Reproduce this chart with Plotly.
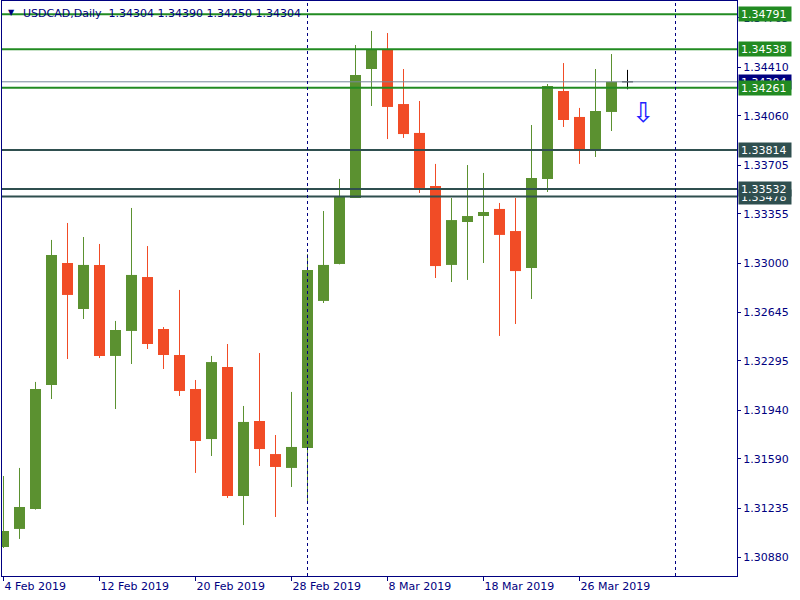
import plotly.graph_objects as go
import pandas as pd

# ---------------- data ----------------
dates = ["2019-02-04", "2019-02-05", "2019-02-06", "2019-02-07", "2019-02-08",
         "2019-02-11", "2019-02-12", "2019-02-13", "2019-02-14", "2019-02-15",
         "2019-02-18", "2019-02-19", "2019-02-20", "2019-02-21", "2019-02-22",
         "2019-02-25", "2019-02-26", "2019-02-27", "2019-02-28", "2019-03-01",
         "2019-03-04", "2019-03-05", "2019-03-06", "2019-03-07", "2019-03-08",
         "2019-03-11", "2019-03-12", "2019-03-13", "2019-03-14", "2019-03-15",
         "2019-03-18", "2019-03-19", "2019-03-20", "2019-03-21", "2019-03-22",
         "2019-03-25", "2019-03-26", "2019-03-27", "2019-03-28", "2019-03-29"]

opens = [1.30956, 1.31086, 1.31230, 1.32122, 1.33000, 1.32669, 1.32986, 1.32331, 1.32511, 1.32899,
         1.32525, 1.32338, 1.32093, 1.31733, 1.32252, 1.31323, 1.31863, 1.31625, 1.31525, 1.31669,
         1.32727, 1.32993, 1.33468, 1.34396, 1.34533, 1.34144, 1.33936, 1.33554, 1.32986, 1.33295,
         1.33338, 1.33389, 1.33230, 1.32964, 1.33605, 1.34238, 1.34051, 1.33813, 1.34087, 1.34304]
closes = [1.31071, 1.31244, 1.32093, 1.33058, 1.32770, 1.32986, 1.32331, 1.32518, 1.32914, 1.32417,
          1.32338, 1.32079, 1.31719, 1.32287, 1.31323, 1.31856, 1.31661, 1.31532, 1.31676, 1.32950,
          1.32986, 1.33475, 1.34353, 1.34533, 1.34123, 1.33928, 1.33540, 1.32978, 1.33309, 1.33338,
          1.33367, 1.33202, 1.32942, 1.33612, 1.34274, 1.34029, 1.33813, 1.34094, 1.34304, 1.34304]
highs = [1.31467, 1.31525, 1.32144, 1.33166, 1.33288, 1.33187, 1.33137, 1.32583, 1.33396, 1.33122,
         1.32539, 1.32806, 1.32158, 1.32331, 1.32417, 1.31971, 1.32352, 1.31762, 1.32072, 1.33065,
         1.33374, 1.33605, 1.34569, 1.34670, 1.34655, 1.34396, 1.34166, 1.33713, 1.33468, 1.33705,
         1.33648, 1.33432, 1.33468, 1.33993, 1.34288, 1.34439, 1.34116, 1.34396, 1.34504, 1.34390]
lows = [1.30949, 1.31014, 1.31225, 1.32021, 1.32309, 1.32597, 1.32316, 1.31949, 1.32273, 1.32381,
        1.32237, 1.32043, 1.31489, 1.31611, 1.31309, 1.31114, 1.31539, 1.31172, 1.31388, 1.31287,
        1.32712, 1.32990, 1.33468, 1.34130, 1.33892, 1.33900, 1.33504, 1.32892, 1.32863, 1.32878,
        1.33000, 1.32475, 1.32561, 1.32741, 1.33511, 1.33979, 1.33713, 1.33763, 1.33950, 1.34250]

symbol = "USDCAD,Daily"
bid = 1.34304
green_levels = [1.34791, 1.34538, 1.34261]
dark_levels = [1.33814, 1.33532, 1.33478]
y_ticks = [1.30880, 1.31235, 1.31590, 1.31940, 1.32295, 1.32645, 1.33000,
           1.33355, 1.33705, 1.34060, 1.34410, 1.34765]
x_tick_every = 6
separator_bars = [19, 42]
signal_bar = 40
signal_price = 1.34085

# ---------------- styles ----------------
BULL = "#5B9130"
BEAR = "#F14C26"
DOJI = "#000000"
NAVY = "#000080"
GREEN_LINE = "#228B22"
DARK_LINE = "#2F4F4F"
BID_LINE = "#778899"
FONT = "DejaVu Sans"

idx = list(range(len(dates)))
dts = pd.to_datetime(dates)
x_labels = [f"{d.day} {d:%b %Y}" for d in dts]

fig = go.Figure()

# wicks
for colr, cond in ((BULL, lambda o, c: c > o), (BEAR, lambda o, c: c < o), (DOJI, lambda o, c: c == o)):
    xs, ys = [], []
    for i in idx:
        if cond(opens[i], closes[i]):
            xs += [i, i, None]
            ys += [lows[i], highs[i], None]
    fig.add_trace(go.Scatter(x=xs, y=ys, mode="lines", line=dict(color=colr, width=1),
                             hoverinfo="skip", showlegend=False))

# bodies
BODY_W = 0.6875
for colr, cond in ((BULL, lambda o, c: c > o), (BEAR, lambda o, c: c < o)):
    bx, by, bb = [], [], []
    for i in idx:
        if cond(opens[i], closes[i]):
            bx.append(i)
            bb.append(min(opens[i], closes[i]))
            by.append(abs(closes[i] - opens[i]))
    fig.add_trace(go.Bar(x=bx, y=by, base=bb, width=BODY_W, marker=dict(color=colr, line=dict(width=0)),
                         hoverinfo="skip", showlegend=False))

# doji bodies as horizontal strokes
dx, dy = [], []
for i in idx:
    if opens[i] == closes[i]:
        dx += [i - BODY_W / 2, i + BODY_W / 2, None]
        dy += [opens[i], opens[i], None]
fig.add_trace(go.Scatter(x=dx, y=dy, mode="lines", line=dict(color=DOJI, width=1),
                         hoverinfo="skip", showlegend=False))

# horizontal levels
shapes = []
for lv in green_levels:
    shapes.append(dict(type="line", xref="paper", x0=0, x1=1, yref="y", y0=lv, y1=lv,
                       line=dict(color=GREEN_LINE, width=2)))
for lv in dark_levels:
    shapes.append(dict(type="line", xref="paper", x0=0, x1=1, yref="y", y0=lv, y1=lv,
                       line=dict(color=DARK_LINE, width=2)))
shapes.append(dict(type="line", xref="paper", x0=0, x1=1, yref="y", y0=bid, y1=bid,
                   line=dict(color=BID_LINE, width=1)))
for sb in separator_bars:
    shapes.append(dict(type="line", xref="x", x0=sb, x1=sb, yref="paper", y0=0, y1=1,
                       line=dict(color=NAVY, width=1, dash="3px,3px")))

annotations = []
# price labels on right
def price_label(val, bg):
    return dict(xref="paper", x=1, xanchor="left", yref="y", y=val, yanchor="middle",
                text=f"{val:.5f}", showarrow=False, bgcolor=bg, borderpad=2,
                width=48, height=10, align="left", xshift=1,
                font=dict(family=FONT, size=11, color="white"))

annotations.append(price_label(bid, NAVY))
lvls = sorted([(v, GREEN_LINE) for v in green_levels] + [(v, DARK_LINE) for v in dark_levels])
for v, c in lvls:
    annotations.append(price_label(v, c))

# title
annotations.append(dict(xref="paper", x=0, xanchor="left", xshift=4, yref="paper", y=1, yanchor="top",
                        yshift=-5, showarrow=False, text="\u25BC",
                        font=dict(family=FONT, size=8, color=NAVY)))
annotations.append(dict(xref="paper", x=0, xanchor="left", xshift=19, yref="paper", y=1, yanchor="top",
                        yshift=-4, showarrow=False, align="left",
                        text=symbol + "\u00a0\u00a0" + " ".join(f"{v:.5f}" for v in
                              (opens[-1], highs[-1], lows[-1], closes[-1])),
                        font=dict(family=FONT, size=11, color=NAVY)))

# signal arrow
annotations.append(dict(xref="x", x=signal_bar, yref="y", y=signal_price, showarrow=False,
                        text="\u21E9", font=dict(family=FONT, size=27, color="#2020FF")))

x0 = -1.5 / 16
fig.update_layout(
    width=800, height=600,
    margin=dict(l=2, r=63, t=1, b=24, autoexpand=False),
    paper_bgcolor="white", plot_bgcolor="white",
    barmode="overlay", showlegend=False, hovermode=False,
    shapes=shapes, annotations=annotations,
    xaxis=dict(range=[x0, x0 + 735 / 16], showgrid=False, zeroline=False,
               showline=True, linecolor=NAVY, linewidth=1, mirror=True,
               tickmode="array", tickvals=idx[::x_tick_every], ticktext=x_labels[::x_tick_every],
               ticks="outside", ticklen=4, tickcolor=NAVY, ticklabelposition="outside right",
               tickfont=dict(family=FONT, size=11, color=NAVY), fixedrange=True),
    yaxis=dict(range=[1.307473, 1.348856], side="right", showgrid=False, zeroline=False,
               showline=True, linecolor=NAVY, linewidth=1, mirror=True,
               tickmode="array", tickvals=y_ticks, ticktext=[f"{v:.5f}" for v in y_ticks],
               ticks="outside", ticklen=3, tickcolor=NAVY,
               tickfont=dict(family=FONT, size=11, color=NAVY), fixedrange=True),
)

fig.write_html("out.html", config={"displayModeBar": False},
               post_script="document.body.style.margin='0';document.body.style.overflow='hidden';")
